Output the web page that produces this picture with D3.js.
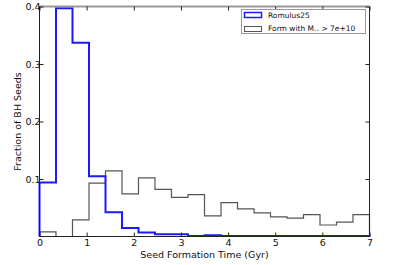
<!DOCTYPE html>
<html><head><meta charset="utf-8">
<script src="https://cdn.jsdelivr.net/npm/d3@7"></script>
<style>body{margin:0;background:#fff}svg{display:block}text{font-family:"DejaVu Sans",sans-serif}</style>
</head><body><svg id="c" width="412" height="265"></svg>
<script>
const binEdges = d3.range(0, 7.0001, 0.35);
const romulus25 = [0.094,0.397,0.337,0.105,0.042,0.015,0.007,0.004,0.004,0.001,0.002,0.001,0.001,0.001,0.001,0.001,0.001,0.001,0.001,0.001];
const massive = [0.008,0.0,0.029,0.093,0.114,0.074,0.102,0.082,0.068,0.073,0.036,0.059,0.048,0.041,0.034,0.032,0.038,0.020,0.025,0.038];
const xTicks = [0,1,2,3,4,5,6,7];
const yTicks = [0.1,0.2,0.3,0.4];
const xLabel = "Seed Formation Time (Gyr)";
const yLabel = "Fraction of BH Seeds";

const svg = d3.select("#c");
const x = d3.scaleLinear().domain([0,7]).range([39.5,369.5]);
const y = d3.scaleLinear().domain([0,0.4]).range([236.5,6.5]);

function stepPath(vals){
  let p = `M${x(binEdges[0])},${y(0)}`;
  vals.forEach((v,i)=>{ p += `L${x(binEdges[i])},${y(v)}L${x(binEdges[i+1])},${y(v)}`; });
  p += `L${x(binEdges[vals.length])},${y(0)}`;
  return p;
}

svg.append("path").attr("d", stepPath(massive)).attr("fill","none").attr("stroke","#555").attr("stroke-width",1.2);
svg.append("path").attr("d", stepPath(romulus25)).attr("fill","none").attr("stroke","#1a1aff").attr("stroke-width",2);

// frame
svg.append("line").attr("x1",x(0)).attr("x2",x(7)).attr("y1",y(0.4)).attr("y2",y(0.4)).attr("stroke","#999").attr("stroke-width",2);
svg.append("line").attr("x1",x(0)).attr("x2",x(7)).attr("y1",y(0)).attr("y2",y(0)).attr("stroke","#222").attr("stroke-width",1);
svg.append("line").attr("x1",x(0)).attr("x2",x(0)).attr("y1",y(0)).attr("y2",y(0.4)).attr("stroke","#222").attr("stroke-width",1);
svg.append("line").attr("x1",x(7)).attr("x2",x(7)).attr("y1",y(0)).attr("y2",y(0.4)).attr("stroke","#222").attr("stroke-width",1);

// axes
const xb = svg.append("g").attr("transform",`translate(0,${y(0)})`)
  .call(d3.axisBottom(x).tickValues(xTicks).tickFormat(d3.format("d")).tickSizeInner(-4).tickSizeOuter(0).tickPadding(3));
const xt = svg.append("g").attr("transform",`translate(0,${y(0.4)})`)
  .call(d3.axisTop(x).tickValues(xTicks).tickFormat("").tickSizeInner(-4).tickSizeOuter(0));
const yl = svg.append("g").attr("transform",`translate(${x(0)},0)`)
  .call(d3.axisLeft(y).tickValues(yTicks).tickFormat(d3.format(".1f")).tickSizeInner(-4).tickSizeOuter(0).tickPadding(-1));
const yr = svg.append("g").attr("transform",`translate(${x(7)},0)`)
  .call(d3.axisRight(y).tickValues(yTicks).tickFormat("").tickSizeInner(-4).tickSizeOuter(0));
[xb,xt,yl,yr].forEach(g=>{ g.select(".domain").remove(); g.selectAll(".tick line").attr("stroke","#222");
  g.selectAll("text").attr("font-size",9.5).attr("fill","#111").attr("font-family","DejaVu Sans"); });

svg.append("text").attr("x",(x(0)+x(7))/2).attr("y",258).attr("text-anchor","middle").attr("font-size",9.5).attr("fill","#111").text(xLabel);
svg.append("text").attr("transform",`translate(21,${(y(0)+y(0.4))/2}) rotate(-90)`).attr("text-anchor","middle").attr("font-size",9.5).attr("fill","#111").text(yLabel);

// legend
const lg = svg.append("g");
lg.append("rect").attr("x",241.5).attr("y",9.5).attr("width",124).attr("height",24).attr("fill","#fff").attr("stroke","#999");
lg.append("rect").attr("x",244.5).attr("y",12.5).attr("width",17).attr("height",5).attr("fill","none").attr("stroke","#1a1aff").attr("stroke-width",1.5);
lg.append("text").attr("x",268).attr("y",18).attr("font-size",7.5).attr("fill","#111").text("Romulus25");
lg.append("rect").attr("x",244.5).attr("y",26.5).attr("width",17).attr("height",5).attr("fill","none").attr("stroke","#555").attr("stroke-width",1);
const t2 = lg.append("text").attr("x",268).attr("y",31).attr("font-size",7.5).attr("fill","#111");
t2.append("tspan").text("Form with M");
t2.append("tspan").attr("font-size",5).attr("dy",2).attr("fill","#888").text("**");
t2.append("tspan").attr("dy",-2).text(" > 7e+10");
</script></body></html>
